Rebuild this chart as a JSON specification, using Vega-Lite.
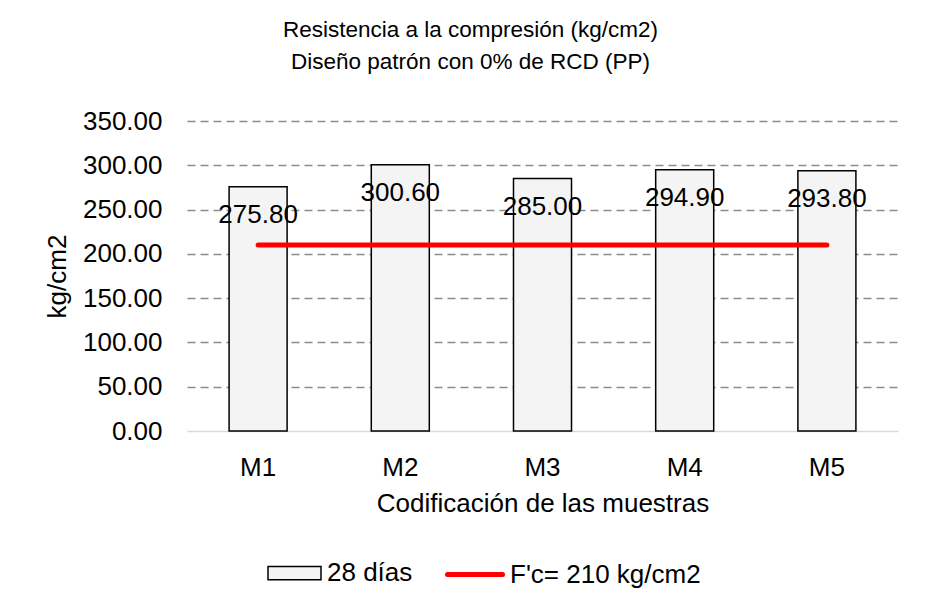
{
  "$schema": "https://vega.github.io/schema/vega-lite/v6.json",
  "width": 711,
  "height": 310,
  "autosize": {"type": "none"},
  "padding": {"left": 187, "top": 121, "right": 44, "bottom": 176},
  "background": "white",
  "config": {
    "font": "Liberation Sans",
    "view": {"stroke": null},
    "axis": {"labelColor": "black", "titleColor": "black", "titleFontWeight": "normal"}
  },
  "title": {
    "text": ["Resistencia a la compresión (kg/cm2)", "Diseño patrón con 0% de RCD (PP)"],
    "fontSize": 22.5,
    "fontWeight": "normal",
    "color": "black",
    "anchor": "middle",
    "frame": "group",
    "dx": -72,
    "lineHeight": 32,
    "offset": 35
  },
  "data": {
    "values": [
      {"muestra": "M1", "resistencia": 275.8, "serie": "28 días", "fc": 210, "referencia": "F'c= 210 kg/cm2"},
      {"muestra": "M2", "resistencia": 300.6, "serie": "28 días", "fc": 210, "referencia": "F'c= 210 kg/cm2"},
      {"muestra": "M3", "resistencia": 285.0, "serie": "28 días", "fc": 210, "referencia": "F'c= 210 kg/cm2"},
      {"muestra": "M4", "resistencia": 294.9, "serie": "28 días", "fc": 210, "referencia": "F'c= 210 kg/cm2"},
      {"muestra": "M5", "resistencia": 293.8, "serie": "28 días", "fc": 210, "referencia": "F'c= 210 kg/cm2"}
    ]
  },
  "layer": [
    {
      "mark": {"type": "bar", "stroke": "black", "strokeWidth": 1.5},
      "encoding": {
        "x": {
          "field": "muestra",
          "type": "nominal",
          "scale": {"paddingInner": 0.592, "paddingOuter": 0.296},
          "axis": {
            "title": "Codificación de las muestras",
            "titleFontSize": 26,
            "titleY": 59,
            "titleBaseline": "top",
            "labelAngle": 0,
            "labelFontSize": 26,
            "labelPadding": 23,
            "ticks": false,
            "tickSize": 0,
            "domainColor": "#d9d9d9",
            "domainWidth": 1.5,
            "grid": false
          }
        },
        "y": {
          "field": "resistencia",
          "type": "quantitative",
          "scale": {"domain": [0, 350]},
          "axis": {
            "title": "kg/cm2",
            "titleFontSize": 26,
            "titleX": -117,
            "titleY": 155,
            "values": [0, 50, 100, 150, 200, 250, 300, 350],
            "format": ".2f",
            "labelFontSize": 26,
            "labelPadding": 25,
            "ticks": false,
            "tickSize": 0,
            "domain": false,
            "grid": true,
            "gridDash": [8, 5],
            "gridWidth": 1.5,
            "gridColor": {"condition": {"test": "datum.value === 0", "value": "transparent"}, "value": "#8c8c8c"}
          }
        },
        "fill": {
          "field": "serie",
          "type": "nominal",
          "scale": {"range": ["#f4f4f4"]},
          "legend": {
            "orient": "none",
            "legendX": 80,
            "legendY": 424.5,
            "title": null,
            "padding": 0,
            "symbolType": "M-1,-0.25H1V0.25H-1Z",
            "symbolSize": 2809,
            "symbolStrokeColor": "black",
            "symbolStrokeWidth": 1.5,
            "labelFontSize": 26,
            "labelOffset": 5,
            "labelLimit": 400,
            "labelColor": "black"
          }
        }
      }
    },
    {
      "mark": {"type": "line", "strokeWidth": 5, "strokeCap": "round"},
      "encoding": {
        "x": {"field": "muestra", "type": "nominal"},
        "y": {"field": "fc", "type": "quantitative"},
        "stroke": {
          "field": "referencia",
          "type": "nominal",
          "scale": {"range": ["#ff0000"]},
          "legend": {
            "orient": "none",
            "legendX": 258,
            "legendY": 423.5,
            "title": null,
            "padding": 0,
            "symbolType": "stroke",
            "symbolSize": 3025,
            "symbolStrokeWidth": 5,
            "labelFontSize": 26,
            "labelOffset": 5,
            "labelLimit": 400,
            "labelColor": "black",
            "encode": {"symbols": {"update": {"strokeCap": {"value": "round"}}}}
          }
        }
      }
    },
    {
      "mark": {"type": "text", "baseline": "alphabetic", "dy": 36, "fontSize": 26, "color": "black"},
      "encoding": {
        "x": {"field": "muestra", "type": "nominal"},
        "y": {"field": "resistencia", "type": "quantitative"},
        "text": {"field": "resistencia", "type": "quantitative", "format": ".2f"}
      }
    }
  ]
}
